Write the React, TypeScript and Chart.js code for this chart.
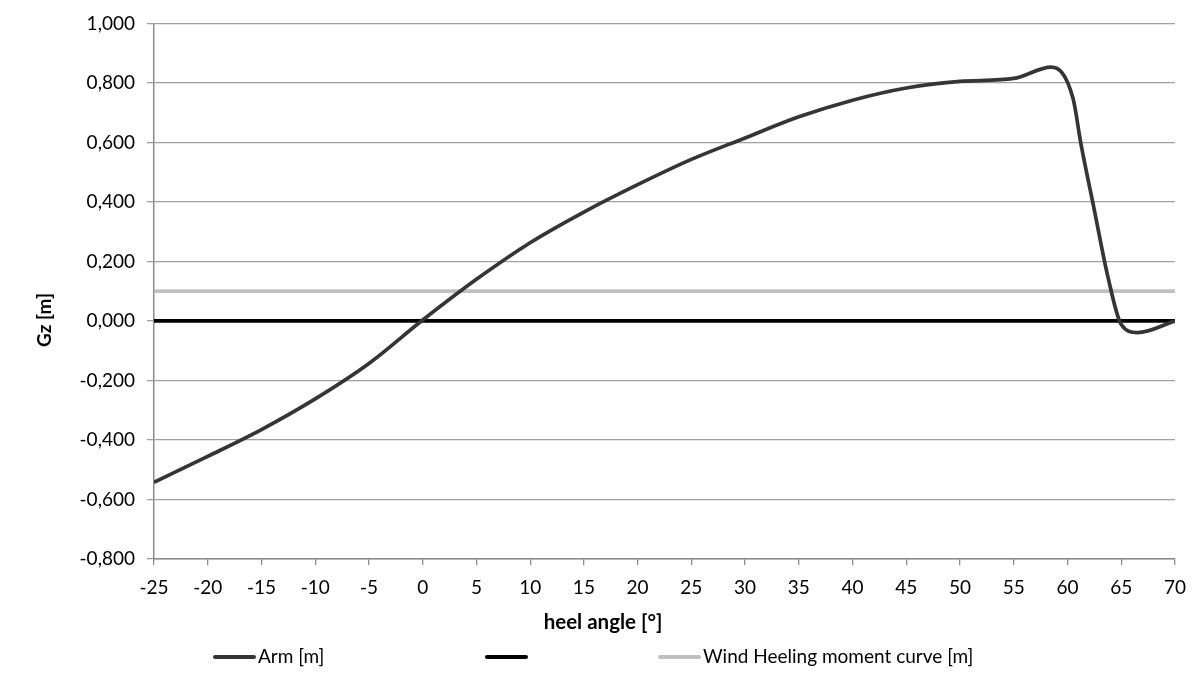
import React, { useEffect, useRef } from 'react';
import { Chart, registerables } from 'chart.js';

Chart.register(...registerables);

// ---- data ----
const heelAngles = [-25, -20, -15, -10, -5, 0, 5, 10, 15, 20, 25, 30, 35, 40, 45, 50, 55, 58.5, 60.5, 61.25, 62.5, 63.75, 65, 66.5, 70];
const armValues = [-0.542, -0.455, -0.365, -0.262, -0.143, 0.003, 0.14, 0.263, 0.366, 0.458, 0.543, 0.615, 0.686, 0.742, 0.783, 0.805, 0.815, 0.853, 0.75, 0.595, 0.372, 0.15, -0.012, -0.039, 0.0];
const lineEnds = [-25, 70];
const zeroValues = [0, 0];
const windValues = [0.1, 0.1];
const seriesLabels = ['Arm [m]', '', 'Wind Heeling moment curve [m]'];
const seriesColors = ['#353535', '#000000', '#c0c0c0'];
const xTitle = 'heel angle [°]';
const yTitle = 'Gz [m]';

const FONT = 'Lato, "Open Sans", sans-serif';
const LEGEND_X = [213, 485, 658];

function fmt(v: number): string {
  if (Math.abs(v) < 1e-9) v = 0;
  return v.toFixed(3).replace('.', ',');
}

const overlayPlugin = {
  id: 'overlayText',
  afterDraw(chart: any) {
    const ctx = chart.ctx as CanvasRenderingContext2D;
    ctx.save();
    ctx.fillStyle = '#000';
    ctx.textAlign = 'center';
    ctx.textBaseline = 'middle';
    ctx.font = `bold 20.5px ${FONT}`;
    ctx.fillText(xTitle, 603, 622);
    ctx.save();
    ctx.translate(45, 320);
    ctx.rotate(-Math.PI / 2);
    ctx.font = `bold 19px ${FONT}`;
    ctx.fillText(yTitle, 0, 0);
    ctx.restore();

    // legend
    ctx.font = `19px ${FONT}`;
    ctx.textAlign = 'left';
    const ds = chart.data.datasets;
    const swatch = 43;
    const y = 657;
    ds.forEach((d: any, i: number) => {
      const x = LEGEND_X[i];
      ctx.strokeStyle = d.borderColor;
      ctx.lineWidth = 4;
      ctx.lineCap = 'round';
      ctx.beginPath();
      ctx.moveTo(x + 2, y);
      ctx.lineTo(x + swatch - 2, y);
      ctx.stroke();
      if (d.label) {
        ctx.fillStyle = '#000';
        ctx.fillText(d.label, x + swatch + 2, y);
      }
    });
    ctx.restore();
  },
};

export default function App() {
  const ref = useRef<HTMLCanvasElement>(null);

  useEffect(() => {
    if (!ref.current) return;
    const chart = new Chart(ref.current, {
      type: 'line',
      data: {
        datasets: [
          {
            label: seriesLabels[0],
            data: heelAngles.map((x, i) => ({ x, y: armValues[i] })),
            borderColor: seriesColors[0],
            borderWidth: 3.7,
            pointRadius: 0,
            cubicInterpolationMode: 'monotone',
            fill: false,
          },
          {
            label: seriesLabels[1],
            data: lineEnds.map((x, i) => ({ x, y: zeroValues[i] })),
            borderColor: seriesColors[1],
            borderWidth: 3.7,
            pointRadius: 0,
            fill: false,
          },
          {
            label: seriesLabels[2],
            data: lineEnds.map((x, i) => ({ x, y: windValues[i] })),
            borderColor: seriesColors[2],
            borderWidth: 3.7,
            pointRadius: 0,
            fill: false,
          },
        ],
      },
      options: {
        animation: false,
        responsive: true,
        maintainAspectRatio: false,
        layout: { padding: { top: 20, right: 17, left: 0, bottom: 0 } },
        plugins: {
          legend: { display: false },
          tooltip: { enabled: false },
          title: { display: false },
        },
        scales: {
          x: {
            type: 'linear',
            min: -25,
            max: 70,
            ticks: {
              stepSize: 5,
              autoSkip: false,
              maxRotation: 0,
              padding: 11,
              color: '#000',
              font: { family: FONT, size: 19 },
              callback: (v: any) => String(v),
            },
            grid: { drawOnChartArea: false, drawTicks: true, tickLength: 6, color: '#8c8c8c', lineWidth: 1.3 },
            border: { color: '#8c8c8c', width: 1.5 },
            afterFit: (s: any) => { s.height = 674 - 559; },
          },
          y: {
            type: 'linear',
            min: -0.8,
            max: 1.0,
            ticks: {
              stepSize: 0.2,
              padding: 12,
              color: '#000',
              font: { family: FONT, size: 19 },
              callback: (v: any) => fmt(Number(v)),
            },
            grid: { color: '#a0a0a0', lineWidth: 1.3, tickLength: 7 },
            border: { color: '#8c8c8c', width: 1.5 },
            afterFit: (s: any) => { s.width = 154; },
          },
        },
      },
      plugins: [overlayPlugin],
    });
    return () => chart.destroy();
  }, []);

  return (
    <div style={{ position: 'fixed', left: 0, top: 0, width: 1197, height: 674, background: '#fff' }}>
      <canvas ref={ref} />
    </div>
  );
}
